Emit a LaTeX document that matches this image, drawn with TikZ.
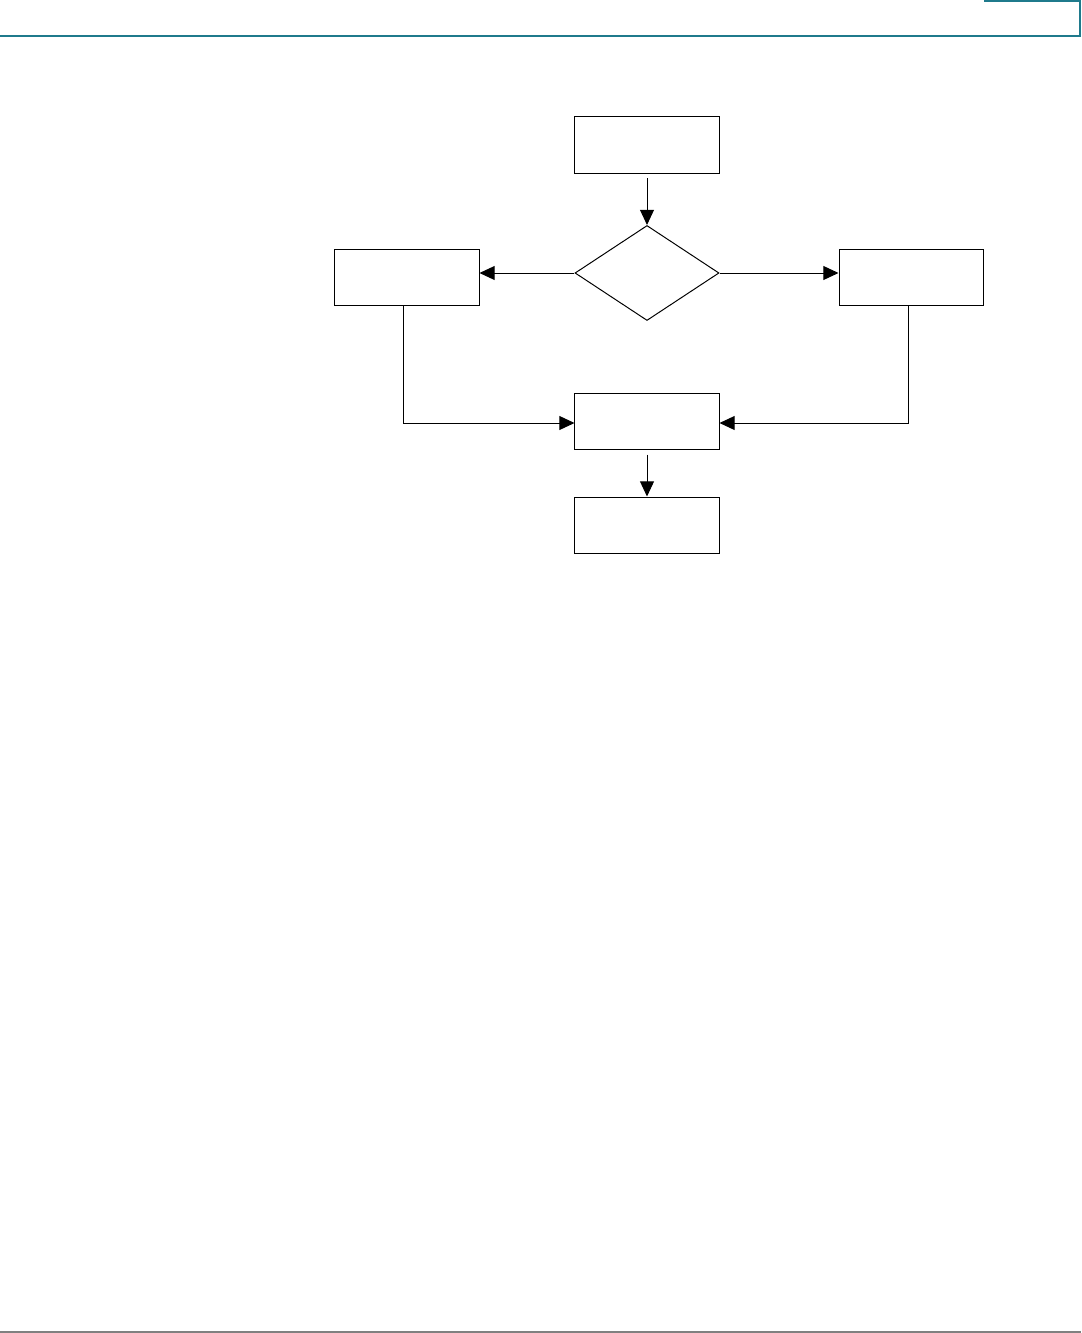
\documentclass[tikz,border=0pt]{standalone}
\usepackage{xcolor}
\usetikzlibrary{arrows.meta,positioning,shapes.geometric}
\definecolor{teal2}{HTML}{1F7A8C}
\definecolor{rule2}{HTML}{808080}

\begin{document}
\begin{tikzpicture}[
          x=0.025cm,y=-0.025cm,
          box/.style={draw,line width=0.7pt,minimum width=3.6cm,
                      minimum height=1.4cm,inner sep=0pt},
          decbox/.style={draw,diamond,line width=0.7pt,inner sep=0pt,
                         minimum width=3.6cm,minimum height=2.375cm},
          arr/.style={-{Triangle[length=3.8mm,width=3.5mm]},line width=0.7pt},
      ]
        \useasboundingbox (0,0) rectangle (1081,1333);
        % page frame
        \draw[teal2,line width=0.9pt] (0,36) -- (1080,36) -- (1080,1) -- (984,1);
        \draw[rule2,line width=0.9pt] (0,1332) -- (1081,1332);

        \node[box] (start) at (647,145) {};
        \node[decbox] (decide) at (647,273) {};
        \node[box] (left) at (407,277) {};
        \node[box] (right) at (911,277) {};
        \node[box] (merge) at (647,421) {};
        \node[box] (finish) at (647,525) {};

        \draw[arr,shorten <=0.125cm] (start) -- (decide);
        \draw[arr] (decide.west) -- (left.east |- decide.west);
        \draw[arr] (decide.east) -- (right.west |- decide.east);
        \draw[arr] ([xshift=-0.1cm]left.south) |- ([yshift=-0.05cm]merge.west);
        \draw[arr] ([xshift=-0.075cm]right.south) |- ([yshift=-0.05cm]merge.east);
        \draw[arr,shorten <=0.125cm] (merge) -- (finish);
      \end{tikzpicture}
\end{document}
